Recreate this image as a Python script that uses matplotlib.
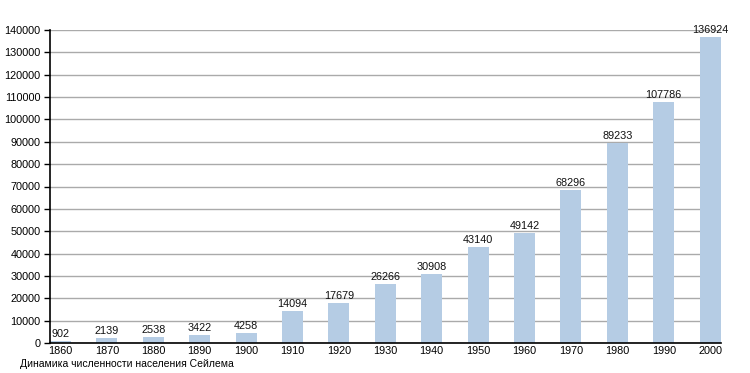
import matplotlib
matplotlib.use("Agg")
import matplotlib.pyplot as plt
import numpy as np

years = ["1860", "1870", "1880", "1890", "1900", "1910", "1920", "1930",
         "1940", "1950", "1960", "1970", "1980", "1990", "2000"]
population = [902, 2139, 2538, 3422, 4258, 14094, 17679, 26266,
              30908, 43140, 49142, 68296, 89233, 107786, 136924]
caption = "Динамика численности населения Сейлема"

plt.rcParams['font.family'] = ['Liberation Sans', 'DejaVu Sans']
FS = 7.8

fig = plt.figure(figsize=(7.5, 3.73), dpi=100)
ax = fig.add_axes([0.0667, 0.0804, 0.8947, 0.8392])

x = np.arange(len(years))
w = 0.45
bars = ax.bar(x, population, width=w, color="#b5cce4", zorder=2)
for xi, v in zip(x, population):
    ax.text(xi, v + 900, str(v), ha="center", va="bottom", fontsize=FS, color="#111111", zorder=3)

ax.set_xlim(-w / 2, len(years) - 1 + w / 2 + 0.01)
ax.set_ylim(0, 140000)
ax.set_yticks(np.arange(0, 140001, 10000))
ax.set_yticklabels([str(v) for v in range(0, 140001, 10000)], fontsize=FS)
ax.set_xticks(x)
ax.set_xticklabels(years, fontsize=FS)
ax.tick_params(axis="x", length=0, pad=2.5)
ax.tick_params(axis="y", length=4, width=1, direction="out", pad=3)
ax.yaxis.grid(True, color="#aaaaaa", linewidth=1, zorder=0)
ax.set_axisbelow(True)
for s in ["top", "right"]:
    ax.spines[s].set_visible(False)
ax.spines["left"].set_linewidth(1.2)
ax.spines["bottom"].set_linewidth(1.2)

fig.text(20 / 750, 1 - 364 / 373, caption, fontsize=7.5, ha="left", va="center")

fig.savefig("out.png", dpi=100)
